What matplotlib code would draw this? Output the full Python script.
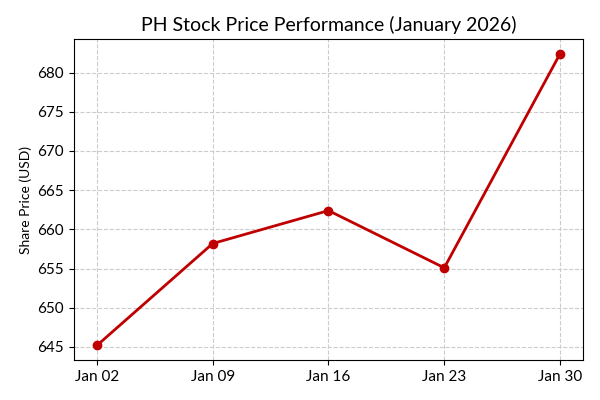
import matplotlib

matplotlib.use("Agg")
import matplotlib.dates as mdates
import matplotlib.pyplot as plt
import numpy as np

# --- Data ---
DATES = ["2026-01-02", "2026-01-09", "2026-01-16", "2026-01-23", "2026-01-30"]
PRICES = [645.2, 658.2, 662.4, 655.1, 682.4]

LINE_COLOR = "#C00000"

plt.rcParams["font.family"] = ["Lato", "DejaVu Sans"]


def main():
    dates = np.array(DATES, dtype="datetime64[D]")

    figure, axis = plt.subplots(figsize=(6, 4), dpi=100)
    axis.plot(dates, PRICES, color=LINE_COLOR, linewidth=2, marker="o", markersize=6)

    axis.set_title("PH Stock Price Performance (January 2026)", fontsize=14)
    axis.set_ylabel("Share Price (USD)", fontsize=10)
    axis.set_xticks(dates)
    axis.xaxis.set_major_formatter(mdates.DateFormatter("%b %d"))
    axis.tick_params(labelsize=11)
    axis.grid(True, linestyle="--", color="#cccccc", linewidth=0.8)

    # match reference axes box
    figure.subplots_adjust(left=0.123, right=0.972, top=0.902, bottom=0.1)
    figure.savefig("out.png", dpi=100)
    plt.close(figure)


if __name__ == "__main__":
    main()
